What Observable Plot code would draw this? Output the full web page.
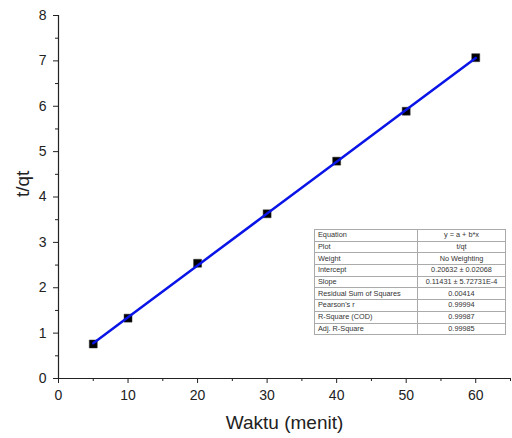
<!DOCTYPE html>
<html>
<head>
<meta charset="utf-8">
<script src="https://cdn.jsdelivr.net/npm/d3@7"></script>
<script src="https://cdn.jsdelivr.net/npm/@observablehq/plot@0.6"></script>
<style>
  body { margin: 0; background: #fff; font-family: "Liberation Sans", Arial, sans-serif; }
  #wrap { position: relative; width: 512px; height: 438px; }
  #stats { position: absolute; left: 314px; top: 229px; width: 192px; border-collapse: collapse;
           font-family: "Liberation Sans", Arial, sans-serif; font-size: 7.3px; color: #333; background: #fff; }
  #stats td { border: 1px solid #aaa; height: 10.7px; padding: 0 3px; line-height: 10px; white-space: nowrap; }
  #stats td.v { text-align: center; }
</style>
</head>
<body>
<div id="wrap"></div>
<script>
const waktu = [5, 10, 20, 30, 40, 50, 60];
const tqt = [0.76, 1.33, 2.54, 3.63, 4.79, 5.89, 7.07];
const intercept = 0.20632;
const slope = 0.11431;
const xMajor = [0, 10, 20, 30, 40, 50, 60];
const xMinor = [5, 15, 25, 35, 45, 55, 65];
const yMajor = [0, 1, 2, 3, 4, 5, 6, 7, 8];
const yMinor = [0.5, 1.5, 2.5, 3.5, 4.5, 5.5, 6.5, 7.5];
const statLabels = ["Equation", "Plot", "Weight", "Intercept", "Slope", "Residual Sum of Squares", "Pearson's r", "R-Square (COD)", "Adj. R-Square"];
const statValues = ["y = a + b*x", "t/qt", "No Weighting", "0.20632 \u00b1 0.02068", "0.11431 \u00b1 5.72731E-4", "0.00414", "0.99994", "0.99987", "0.99985"];

const points = waktu.map((x, i) => ({x, y: tqt[i]}));
const fit = waktu.map(x => ({x, y: intercept + slope * x}));

const chart = Plot.plot({
  width: 512,
  height: 438,
  marginLeft: 58,
  marginRight: 2,
  marginTop: 15,
  marginBottom: 60,
  style: {fontFamily: "'Liberation Sans', Arial, sans-serif", fontSize: "14px", color: "#222", background: "#fff"},
  x: {domain: [0, 65]},
  y: {domain: [0, 8]},
  marks: [
    Plot.axisX({ticks: xMajor, tickSize: 5, tickPadding: 7, fontSize: 14, label: null, tickFormat: d => String(d)}),
    Plot.axisX({ticks: xMinor, tickSize: 3, tickFormat: () => "", label: null}),
    Plot.axisY({ticks: yMajor, tickSize: 5, tickPadding: 7, fontSize: 14, label: null, tickFormat: d => String(d)}),
    Plot.axisY({ticks: yMinor, tickSize: 3, tickFormat: () => "", label: null}),
    Plot.ruleY([0], {stroke: "#222", strokeWidth: 1.2}),
    Plot.ruleX([0], {stroke: "#222", strokeWidth: 1.2}),
    Plot.dot(points, {x: "x", y: "y", symbol: "square", r: 4.5, fill: "black", stroke: "#333", strokeWidth: 0.5}),
    Plot.line(fit, {x: "x", y: "y", stroke: "#0a14e6", strokeWidth: 2.5}),
    Plot.text(["Waktu (menit)"], {frameAnchor: "bottom", dy: 50, fontSize: 19, fill: "#222"}),
    Plot.text(["t/qt"], {frameAnchor: "left", dx: -36, rotate: -90, fontSize: 19, fill: "#222"})
  ]
});
const wrap = document.getElementById("wrap");
wrap.appendChild(chart);

const table = document.createElement("table");
table.id = "stats";
statLabels.forEach((l, i) => {
  const tr = document.createElement("tr");
  const a = document.createElement("td"); a.textContent = l; a.style.width = "96px";
  const b = document.createElement("td"); b.textContent = statValues[i]; b.className = "v";
  tr.appendChild(a); tr.appendChild(b);
  table.appendChild(tr);
});
wrap.appendChild(table);
</script>
</body>
</html>
